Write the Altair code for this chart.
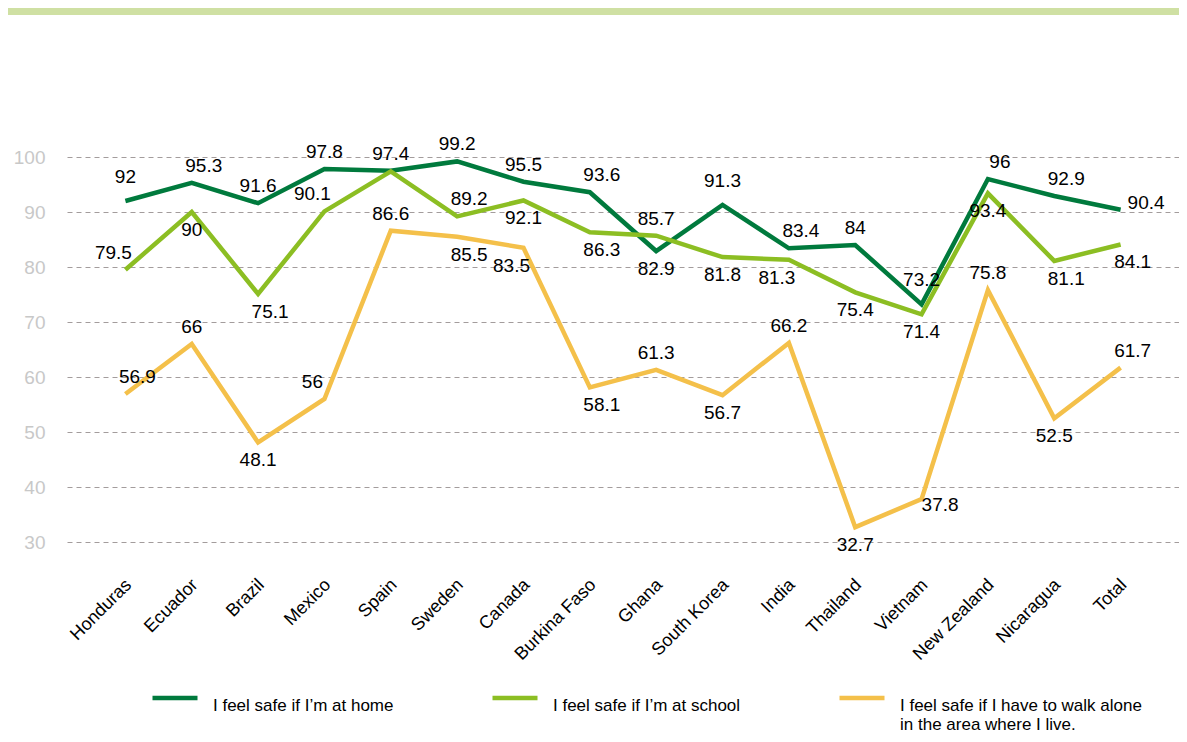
import altair as alt
import pandas as pd

countries = ["Honduras", "Ecuador", "Brazil", "Mexico", "Spain", "Sweden", "Canada",
             "Burkina Faso", "Ghana", "South Korea", "India", "Thailand", "Vietnam",
             "New Zealand", "Nicaragua", "Total"]
home = [92, 95.3, 91.6, 97.8, 97.5, 99.2, 95.5, 93.6, 82.9, 91.3, 83.4, 84, 73.2, 96, 92.9, 90.4]
school = [79.5, 90, 75.1, 90.1, 97.4, 89.2, 92.1, 86.3, 85.7, 81.8, 81.3, 75.4, 71.4, 93.4, 81.1, 84.1]
walk = [56.9, 66, 48.1, 56, 86.6, 85.5, 83.5, 58.1, 61.3, 56.7, 66.2, 32.7, 37.8, 75.8, 52.5, 61.7]
series_names = ["I feel safe if I\u2019m at home",
                "I feel safe if I\u2019m at school",
                "I feel safe if I have to walk alone in the area where I live."]
colors = ["#007a3d", "#8cbe23", "#f4c04a"]
y_ticks = [30, 40, 50, 60, 70, 80, 90, 100]

# label placement codes (A above, B below, R right, AL/AR/BL/BR diagonal, N none)
home_pos = ["A2", "AR", "A", "A", "N", "A", "A", "AR", "B", "A2", "AR", "A", "A2", "AR", "AR", "R"]
school_pos = ["AL", "B", "BR", "AL", "A", "AR", "B", "BR", "A", "B", "BL", "B", "B", "B", "BR", "BR"]
walk_pos = ["AR", "A", "B", "AL", "A", "BR", "BL", "BR", "A", "B", "A", "B", "RB", "A", "B", "AR"]

placements = {
    "A": (0, -17, "center"),
    "A2": (0, -24, "center"),
    "B": (0, 18, "center"),
    "AR": (12, -17, "center"),
    "AL": (-12, -17, "center"),
    "BR": (12, 18, "center"),
    "BL": (-12, 18, "center"),
    "R": (7, -7, "left"),
    "RB": (0, 6, "left"),
}

rows = []
for name, vals, poss in zip(series_names, [home, school, walk], [home_pos, school_pos, walk_pos]):
    for c, v, p in zip(countries, vals, poss):
        rows.append({"country": c, "series": name, "value": v, "pos": p,
                     "label": f"{v:g}"})
df = pd.DataFrame(rows)

font = "Liberation Sans, Arial"
W, H = 1112, 385

x_enc = alt.X("country:N", sort=countries,
              scale=alt.Scale(type="point", padding=0.88),
              axis=alt.Axis(title=None, labelAngle=-45, labelAlign="right",
                            labelBaseline="middle", domain=False, ticks=False,
                            grid=False, labelPadding=40, labelFont=font,
                            labelFontSize=18, labelColor="#000000", labelOffset=3))
y_enc = alt.Y("value:Q",
              scale=alt.Scale(domain=[30, 100], nice=False, zero=False),
              axis=alt.Axis(values=y_ticks, title=None, domain=False, ticks=False,
                            grid=True, gridDash=[5, 4], gridColor="#a39c9c",
                            gridWidth=1, labelColor="#c8c8c8", labelFontSize=19,
                            labelFont=font, labelPadding=22))

legend = alt.Legend(title=None, orient="none", legendX=83, legendY=516,
                    direction="horizontal",
                    symbolType="stroke", symbolStrokeWidth=4.5, symbolSize=2025,
                    labelFont=font, labelFontSize=17, labelColor="#000000",
                    labelOffset=13, columnPadding=89, labelLimit=500,
                    labelBaseline="top",
                    labelExpr="indexof(datum.label, 'walk') >= 0 ? ['I feel safe if I have to walk alone', 'in the area where I live.'] : [datum.label, ' ']")

base = alt.Chart(df)
lines = base.mark_line(strokeWidth=4.5, strokeJoin="miter").encode(
    x=x_enc, y=y_enc,
    color=alt.Color("series:N", scale=alt.Scale(domain=series_names, range=colors),
                    legend=legend),
)

layers = [lines]
for code, (dx, dy, align) in placements.items():
    layers.append(
        base.transform_filter(alt.datum.pos == code)
        .mark_text(dx=dx, dy=dy, align=align, baseline="middle",
                   font=font, fontSize=19, color="#000000")
        .encode(x=alt.X("country:N", sort=countries), y="value:Q", text="label:N")
    )

band = alt.Chart(pd.DataFrame({"k": [0]})).mark_rule(color="#cfe0a3", strokeWidth=10).encode(
    x=alt.value(-59), x2=alt.value(W), y=alt.value(-147))
layers.append(band)

chart = alt.layer(*layers).properties(
    width=W, height=H,
    padding={"left": 59, "top": 149, "right": 0, "bottom": 192},
    autosize=alt.AutoSizeParams(type="none"),
).configure_view(stroke=None)

chart.save("out.html", embed_options={"renderer": "svg", "actions": False})
